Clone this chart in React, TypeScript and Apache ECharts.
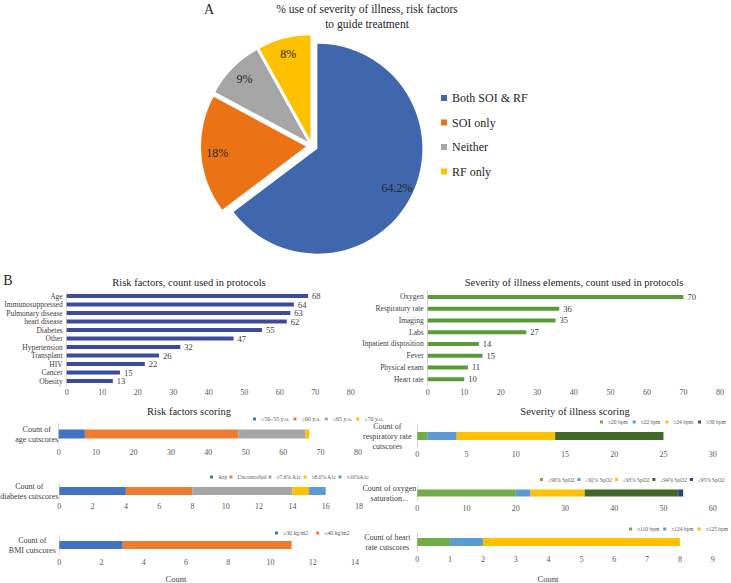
import React, { useEffect, useRef } from 'react';
import * as echarts from 'echarts';

const FONT = '"Liberation Serif", "DejaVu Serif", serif';

// Panel A – pie
const pieNames = ['Both SOI & RF', 'SOI only', 'Neither', 'RF only'];
const pieValues = [64.2, 18, 9, 8];
const pieColors = ['#3F67AD', '#EC7216', '#A5A5A5', '#FDC100'];

// Panel B – counts
const riskFactors = ['Age', 'Immunosuppressed', 'Pulmonary disease', 'heart disease', 'Diabetes', 'Other', 'Hypertension', 'Transplant', 'HIV', 'Cancer', 'Obesity'];
const riskCounts = [68, 64, 63, 62, 55, 47, 32, 26, 22, 15, 13];

const soiElements = ['Oxygen', 'Respiratory rate', 'Imaging', 'Labs', 'Inpatient disposition', 'Fever', 'Physical exam', 'Heart rate'];
const soiCounts = [70, 36, 35, 27, 14, 15, 11, 10];

// Panel B – cutscores
const ageCutNames = ['≥50–55 y.o.', '≥60 y.o.', '≥65 y.o.', '≥70 y.o.'];
const ageCutCounts = [7, 41, 18, 1];
const diabetesCutNames = ['Any', 'Uncontrolled', '≥7.6% A1c', '≥8.0% A1c', '≥10%A1c'];
const diabetesCutCounts = [4, 4, 6, 1, 1];
const bmiCutNames = ['≥30 kg/m2', '≥40 kg/m2'];
const bmiCutCounts = [3, 8];
const respCutNames = ['≥20 bpm', '≥22 bpm', '≥24 bpm', '≥30 bpm'];
const respCutCounts = [1, 3, 10, 11];
const oxyCutNames = ['≤90% SpO2', '≤92% SpO2', '≤93% SpO2', '≤94% SpO2', '≤95% SpO2'];
const oxyCutCounts = [20, 3, 11, 19, 1];
const hrCutNames = ['≥110 bpm', '≥124 bpm', '≥125 bpm'];
const hrCutCounts = [1, 1, 6];

const riskPalette = ['#4472C4', '#ED7D31', '#A5A5A5', '#FFC000', '#5B9BD5'];
const soiPalette = ['#70AD47', '#5B9BD5', '#FFC000', '#43682B', '#264478'];

type StackCfg = {
  label: string;
  names: string[];
  values: number[];
  palette: string[];
  grid: { left: number; width: number; top: number; height: number };
  max: number;
  interval: number;
  barWidth: number;
  labelMargin: number;
  legend: { left: number; top: number; gap: number; size: number };
};

const stacks: StackCfg[] = [
  { label: 'Count of\nage cutscores', names: ageCutNames, values: ageCutCounts, palette: riskPalette,
    grid: { left: 58.7, width: 299.3, top: 423.5, height: 21 }, max: 80, interval: 10, barWidth: 9, labelMargin: 22, legend: { left: 253, top: 416, gap: 4, size: 6 } },
  { label: 'Count of\ndiabetes cutscores', names: diabetesCutNames, values: diabetesCutCounts, palette: riskPalette,
    grid: { left: 59.3, width: 299.7, top: 483.5, height: 15 }, max: 18, interval: 2, barWidth: 8, labelMargin: 30, legend: { left: 210, top: 474, gap: 2, size: 5.5 } },
  { label: 'Count of\nBMI cutscores', names: bmiCutNames, values: bmiCutCounts, palette: riskPalette,
    grid: { left: 59.3, width: 295.7, top: 535.5, height: 19 }, max: 14, interval: 2, barWidth: 8, labelMargin: 27, legend: { left: 275, top: 530, gap: 8, size: 5.8 } },
  { label: 'Count of\nrespiratory rate\ncutscores', names: respCutNames, values: respCutCounts, palette: soiPalette,
    grid: { left: 417.3, width: 295.4, top: 425.5, height: 21 }, max: 30, interval: 5, barWidth: 8, labelMargin: 30, legend: { left: 600, top: 419, gap: 5, size: 5.5 } },
  { label: 'Count of oxygen\nsaturation...', names: oxyCutNames, values: oxyCutCounts, palette: soiPalette,
    grid: { left: 417.3, width: 295.4, top: 485.5, height: 15 }, max: 60, interval: 10, barWidth: 7, labelMargin: 28, legend: { left: 540, top: 477, gap: 3, size: 5.4 } },
  { label: 'Count of heart\nrate cutscores', names: hrCutNames, values: hrCutCounts, palette: soiPalette,
    grid: { left: 417.3, width: 295.4, top: 532.5, height: 19 }, max: 9, interval: 1, barWidth: 8, labelMargin: 30, legend: { left: 629, top: 526, gap: 4, size: 5.5 } },
];

function txt(text: string, x: number, y: number, size: number, color = '#262626') {
  return {
    type: 'text',
    x,
    y,
    silent: true,
    style: {
      text,
      fill: color,
      font: `${size}px ${FONT}`,
      align: 'center',
      verticalAlign: 'middle',
      textAlign: 'center',
      textVerticalAlign: 'middle',
    },
  };
}

export default function App() {
  const ref = useRef<HTMLDivElement>(null);

  useEffect(() => {
    if (!ref.current) return;
    const chart = echarts.init(ref.current, undefined, { renderer: 'svg' });

    const grids: any[] = [
      { left: 66.7, width: 284, top: 291.8, height: 93.5 },
      { left: 427.7, width: 292.3, top: 291, height: 94 },
      ...stacks.map((s) => s.grid),
    ].map((g) => ({ ...g, containLabel: false, outerBoundsMode: 'none' }));

    const valueAxis = (gridIndex: number, max: number, interval: number, margin: number) => ({
      type: 'value',
      gridIndex,
      min: 0,
      max,
      interval,
      axisLine: { show: false },
      axisTick: { show: false },
      splitLine: { show: false },
      axisLabel: { fontSize: 8, color: '#595959', margin, fontFamily: FONT },
    });

    const xAxis: any[] = [
      valueAxis(0, 80, 10, 3),
      valueAxis(1, 80, 10, 3),
      ...stacks.map((s, i) => valueAxis(i + 2, s.max, s.interval, 4)),
    ];

    const catAxis = (gridIndex: number, data: string[], label: any) => ({
      type: 'category',
      gridIndex,
      data,
      inverse: true,
      axisLine: { show: true, lineStyle: { color: '#D9D9D9' } },
      axisTick: { show: false },
      splitLine: { show: false },
      axisLabel: { color: '#404040', fontFamily: FONT, interval: 0, ...label },
    });

    const yAxis: any[] = [
      catAxis(0, riskFactors, { fontSize: 7.5, margin: 4 }),
      catAxis(1, soiElements, { fontSize: 7.5, margin: 4 }),
      ...stacks.map((s, i) =>
        catAxis(i + 2, [s.label], { fontSize: 8, margin: s.labelMargin, align: 'center', lineHeight: 10 })
      ),
    ];

    const series: any[] = [
      {
        type: 'pie',
        name: 'pie',
        center: [312, 146],
        radius: [0, 105],
        startAngle: 90,
        selectedMode: 'multiple',
        selectedOffset: 6,
        silent: true,
        label: { show: false },
        labelLine: { show: false },
        data: pieNames.map((n, i) => ({ name: n, value: pieValues[i], selected: true, itemStyle: { color: pieColors[i] } })),
      },
      {
        type: 'pie',
        name: 'pieLabels',
        center: [312, 146],
        radius: [67, 105],
        startAngle: 90,
        selectedMode: 'multiple',
        selectedOffset: 6,
        silent: true,
        z: 5,
        itemStyle: { color: 'rgba(0,0,0,0)' },
        label: {
          show: true,
          position: 'inside',
          formatter: (p: any) => `${p.value}%`,
          fontSize: 12,
          fontFamily: FONT,
          color: '#262626',
        },
        labelLine: { show: false },
        data: pieNames.map((n, i) => ({ name: n, value: pieValues[i], selected: true, itemStyle: { color: 'rgba(0,0,0,0)' } })),
      },
      {
        type: 'bar',
        xAxisIndex: 0,
        yAxisIndex: 0,
        data: riskCounts,
        barWidth: 4,
        itemStyle: { color: '#3B4C9F' },
        label: { show: true, position: 'right', distance: 4, fontSize: 8.5, color: '#404040', fontFamily: FONT },
      },
      {
        type: 'bar',
        xAxisIndex: 1,
        yAxisIndex: 1,
        data: soiCounts,
        barWidth: 4,
        itemStyle: { color: '#5B9B3A' },
        label: { show: true, position: 'right', distance: 4, fontSize: 8.5, color: '#404040', fontFamily: FONT },
      },
    ];

    stacks.forEach((s, gi) => {
      s.names.forEach((n, i) => {
        series.push({
          type: 'bar',
          name: n,
          stack: 'stack' + gi,
          xAxisIndex: gi + 2,
          yAxisIndex: gi + 2,
          barWidth: s.barWidth,
          data: [s.values[i]],
          itemStyle: { color: s.palette[i] },
          silent: true,
        });
      });
    });

    const legend: any[] = [
      {
        data: pieNames,
        orient: 'vertical',
        left: 441,
        top: 91,
        itemWidth: 6,
        itemHeight: 6,
        itemGap: 10.5,
        icon: 'rect',
        selectedMode: false,
        padding: 0,
        textStyle: { fontSize: 12, lineHeight: 14, color: '#262626', fontFamily: FONT },
      },
      ...stacks.map((s) => ({
        data: s.names,
        orient: 'horizontal',
        left: s.legend.left,
        top: s.legend.top,
        width: 300,
        itemWidth: 3,
        itemHeight: 3,
        itemGap: s.legend.gap,
        icon: 'rect',
        selectedMode: false,
        padding: 0,
        textStyle: { fontSize: s.legend.size, color: '#595959', fontFamily: FONT },
      })),
    ];

    const graphic: any[] = [
      txt('A', 209, 9, 14, '#262626'),
      txt('% use of severity of illness, risk factors', 367, 9, 11.5),
      txt('to guide treatment', 367, 24, 11.5),
      txt('B', 8, 280, 14, '#262626'),
      txt('Risk factors, count used in protocols', 189, 282, 10.5),
      txt('Severity of illness elements, count used in protocols', 574, 282, 10.5),
      txt('Risk factors scoring', 189, 411, 10.5),
      txt('Severity of illness scoring', 575, 411, 10.5),
      txt('Count', 176, 579, 8.5, '#404040'),
      txt('Count', 548, 579, 8.5, '#404040'),
    ];

    chart.setOption({
      animation: false,
      backgroundColor: '#ffffff',
      textStyle: { fontFamily: FONT },
      grid: grids,
      xAxis,
      yAxis,
      legend,
      series,
      graphic,
    });

    return () => chart.dispose();
  }, []);

  return (
    <div
      ref={ref}
      style={{ position: 'fixed', left: 0, top: 0, width: 731, height: 583, background: '#fff' }}
    />
  );
}
